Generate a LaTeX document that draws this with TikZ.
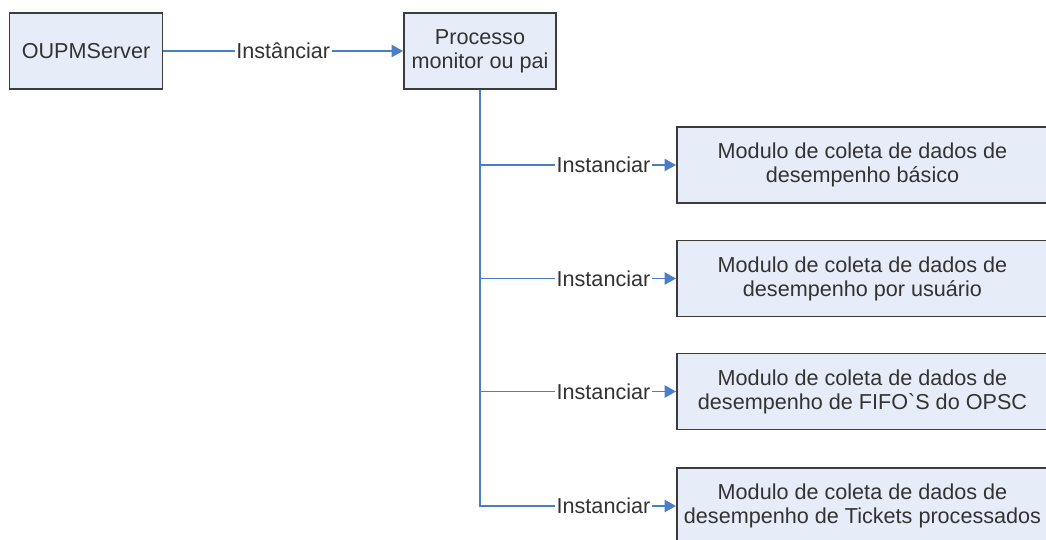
\documentclass[tikz,border=0pt]{standalone}
\usepackage{fontspec}
\setmainfont{Liberation Sans}
\usetikzlibrary{arrows.meta}
\definecolor{boxfill}{HTML}{E6ECF8}
\definecolor{boxline}{HTML}{3C3C3C}
\definecolor{linkblue}{HTML}{4A7EC9}
\definecolor{txtgray}{HTML}{333333}
\tikzset{
  procbox/.style={draw=boxline, line width=1.1pt, fill=boxfill, text=txtgray,
    align=center, inner sep=0pt, font=\fontsize{12.3}{13.7}\selectfont},
  link/.style={draw=linkblue, line width=0.85pt,
    -{Triangle[length=6.5pt,width=7pt]}},
  linklabel/.style={fill=white, inner sep=1pt, text=txtgray,
    font=\fontsize{12.3}{13.7}\selectfont}
}
\begin{document}
\begin{tikzpicture}[x=0.02cm, y=-0.02cm]
    \useasboundingbox (0,0) rectangle (1046,539);% keep page size
    \begin{scope}
    \clip (0,0) rectangle (1046,539);
    % top row
    \node[procbox, minimum width=153*0.02cm, minimum height=76*0.02cm] (server) at (86,51) {OUPMServer};
    \node[procbox, minimum width=152*0.02cm, minimum height=76*0.02cm] (monitor) at (480,51) {Processo\\monitor ou pai};
    % modules
    \node[procbox, minimum width=371*0.02cm, minimum height=76*0.02cm] (basico) at (862.5,165) {Modulo de coleta de dados de\\desempenho básico};
    \node[procbox, minimum width=371*0.02cm, minimum height=76*0.02cm] (usuario) at (862.5,278.5) {Modulo de coleta de dados de\\desempenho por usuário};
    \node[procbox, minimum width=371*0.02cm, minimum height=76*0.02cm] (fifo) at (862.5,391.5) {Modulo de coleta de dados de\\desempenho de FIFO\textasciigrave S do OPSC};
    \node[procbox, minimum width=371*0.02cm, minimum height=76*0.02cm] (tickets) at (862.5,506) {Modulo de coleta de dados de\\desempenho de Tickets processados};
    \end{scope}
    % connectors
    \draw[link] (server) -- node[linklabel] {Instânciar} (monitor);
    \draw[draw=linkblue, line width=1.5pt] (monitor.south) -- (monitor.south |- tickets.west);% trunk
    \foreach \m in {basico,usuario,fifo,tickets}{% one branch per module
      \draw[link] (monitor.south) |- node[linklabel, pos=0.815] {Instanciar} (\m.west);}
  \end{tikzpicture}
\end{document}
